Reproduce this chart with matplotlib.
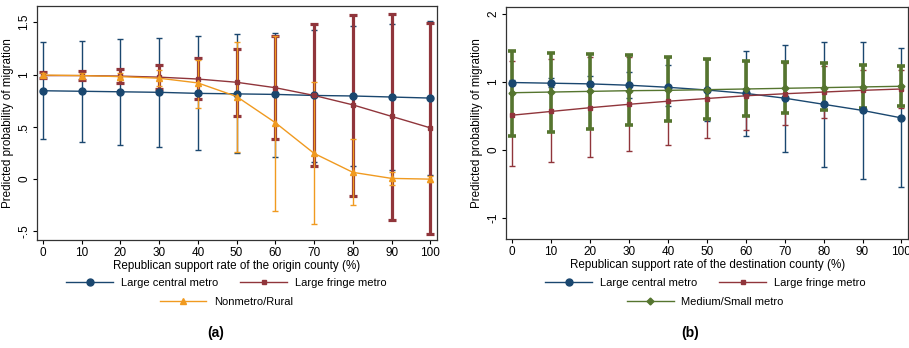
import numpy as np
import matplotlib
matplotlib.use("Agg")
import matplotlib.pyplot as plt
from matplotlib.lines import Line2D

plt.rcParams['font.family'] = ['Liberation Sans', 'DejaVu Sans']
plt.rcParams['font.size'] = 7.5

x = [0, 10, 20, 30, 40, 50, 60, 70, 80, 90, 100]

# panel (a): origin county
a_central = [0.845, 0.84, 0.835, 0.83, 0.82, 0.815, 0.81, 0.80, 0.795, 0.785, 0.775]
a_central_hi = [1.31, 1.32, 1.34, 1.35, 1.366, 1.385, 1.40, 1.43, 1.46, 1.485, 1.51]
a_central_lo = [0.38, 0.355, 0.33, 0.305, 0.275, 0.246, 0.21, 0.167, 0.13, 0.085, 0.04]

a_fringe = [0.99, 0.99, 0.985, 0.975, 0.957, 0.926, 0.874, 0.80, 0.71, 0.60, 0.49]
a_fringe_hi = [1.02, 1.03, 1.05, 1.09, 1.155, 1.245, 1.37, 1.484, 1.57, 1.577, 1.49]
a_fringe_lo = [0.965, 0.95, 0.915, 0.86, 0.763, 0.60, 0.386, 0.122, -0.16, -0.39, -0.52]

a_rural = [0.995, 0.99, 0.98, 0.965, 0.92, 0.79, 0.54, 0.246, 0.065, 0.007, 0.0]
a_rural_hi = [1.01, 1.01, 1.01, 1.04, 1.14, 1.31, 1.37, 0.93, 0.38, 0.07, 0.03]
a_rural_lo = [0.98, 0.97, 0.95, 0.89, 0.68, 0.26, -0.30, -0.43, -0.25, -0.06, -0.03]

# panel (b): destination county
b_central = [0.99, 0.98, 0.97, 0.95, 0.92, 0.88, 0.83, 0.76, 0.67, 0.58, 0.47]
b_central_hi = [1.02, 1.05, 1.09, 1.14, 1.25, 1.34, 1.46, 1.545, 1.59, 1.58, 1.50]
b_central_lo = [0.96, 0.92, 0.87, 0.76, 0.64, 0.43, 0.21, -0.03, -0.25, -0.43, -0.55]

b_fringe = [0.51, 0.565, 0.62, 0.67, 0.715, 0.755, 0.795, 0.825, 0.85, 0.875, 0.895]
b_fringe_hi = [1.30, 1.33, 1.36, 1.36, 1.36, 1.34, 1.31, 1.28, 1.23, 1.17, 1.18]
b_fringe_lo = [-0.24, -0.18, -0.10, -0.02, 0.07, 0.17, 0.29, 0.37, 0.47, 0.58, 0.61]

b_medium = [0.84, 0.85, 0.86, 0.87, 0.875, 0.885, 0.895, 0.905, 0.915, 0.925, 0.935]
b_medium_hi = [1.46, 1.43, 1.41, 1.39, 1.36, 1.34, 1.31, 1.29, 1.27, 1.245, 1.23]
b_medium_lo = [0.20, 0.26, 0.31, 0.37, 0.43, 0.45, 0.50, 0.545, 0.58, 0.62, 0.65]

navy = '#1a476f'
maroon = '#90353b'
orange = '#f09a20'
green = '#55752f'


def ci(ax, y, lo, hi, color, lw, cap):
    y = np.array(y)
    err = [y - np.array(lo), np.array(hi) - y]
    ax.errorbar(x, y, yerr=err, fmt='none', ecolor=color, elinewidth=lw,
                capsize=cap, capthick=lw, zorder=2)


def series(ax, y, color, marker, ms):
    ax.plot(x, y, color=color, lw=1.0, marker=marker, ms=ms, zorder=3)


def style(ax, xlabel, ylim, yticks, yticklabels):
    ax.set_xlim(-1.5, 101.7)
    ax.set_ylim(*ylim)
    ax.set_xticks(x)
    ax.set_yticks(yticks)
    ax.set_yticklabels(yticklabels, rotation=90, va='center')
    ax.set_xlabel(xlabel, labelpad=1, fontsize=8.4)
    ax.set_ylabel("Predicted probability of migration", labelpad=3, fontsize=8.4)
    ax.tick_params(direction='out', length=3, width=0.8, pad=2, labelsize=8.5)
    for s in ax.spines.values():
        s.set_linewidth(0.9)
        s.set_color('#333333')


def handle(color, marker, ms):
    return Line2D([0], [0], color=color, lw=1.0, marker=marker, ms=ms)


fig = plt.figure(figsize=(9.09, 3.48), dpi=100)
ax1 = fig.add_axes([0.0407, 0.31, 0.44, 0.673])
ax2 = fig.add_axes([0.557, 0.313, 0.442, 0.667])

# (a)
ci(ax1, a_central, a_central_lo, a_central_hi, navy, 1.0, 2.5)
ci(ax1, a_fringe, a_fringe_lo, a_fringe_hi, maroon, 2.3, 3)
ci(ax1, a_rural, a_rural_lo, a_rural_hi, orange, 1.0, 2.5)
series(ax1, a_central, navy, 'o', 5)
series(ax1, a_fringe, maroon, 's', 3.5)
series(ax1, a_rural, orange, '^', 5)
style(ax1, "Republican support rate of the origin county (%)", (-0.583, 1.656),
      [-0.5, 0, 0.5, 1, 1.5], ['-.5', '0', '.5', '1', '1.5'])

# (b)
ci(ax2, b_central, b_central_lo, b_central_hi, navy, 1.0, 2.5)
ci(ax2, b_fringe, b_fringe_lo, b_fringe_hi, maroon, 1.0, 2.5)
ci(ax2, b_medium, b_medium_lo, b_medium_hi, green, 2.6, 3)
series(ax2, b_central, navy, 'o', 5)
series(ax2, b_fringe, maroon, 's', 3.5)
series(ax2, b_medium, green, 'D', 3.5)
style(ax2, "Republican support rate of the destination county (%)", (-1.31, 2.10),
      [-1, 0, 1, 2], ['-1', '0', '1', '2'])

leg_kw = dict(frameon=False, handlelength=4.2, handletextpad=0.7,
              columnspacing=2.0, fontsize=8, borderpad=0, loc='center')

fig.legend([handle(navy, 'o', 5), handle(maroon, 's', 3.5)],
           ["Large central metro", "Large fringe metro"], ncol=2,
           bbox_to_anchor=(0.249, 0.187), **leg_kw)
fig.legend([handle(orange, '^', 5)], ["Nonmetro/Rural"],
           bbox_to_anchor=(0.249, 0.132), **leg_kw)
fig.legend([handle(navy, 'o', 5), handle(maroon, 's', 3.5)],
           ["Large central metro", "Large fringe metro"], ncol=2,
           bbox_to_anchor=(0.776, 0.187), **leg_kw)
fig.legend([handle(green, 'D', 3.5)], ["Medium/Small metro"],
           bbox_to_anchor=(0.776, 0.132), **leg_kw)

fig.text(216 / 909, 1 - 333 / 348, "(a)", ha='center', va='center',
         fontsize=10, fontweight='bold')
fig.text(690 / 909, 1 - 333 / 348, "(b)", ha='center', va='center',
         fontsize=10, fontweight='bold')

fig.savefig("out.png", dpi=100)
